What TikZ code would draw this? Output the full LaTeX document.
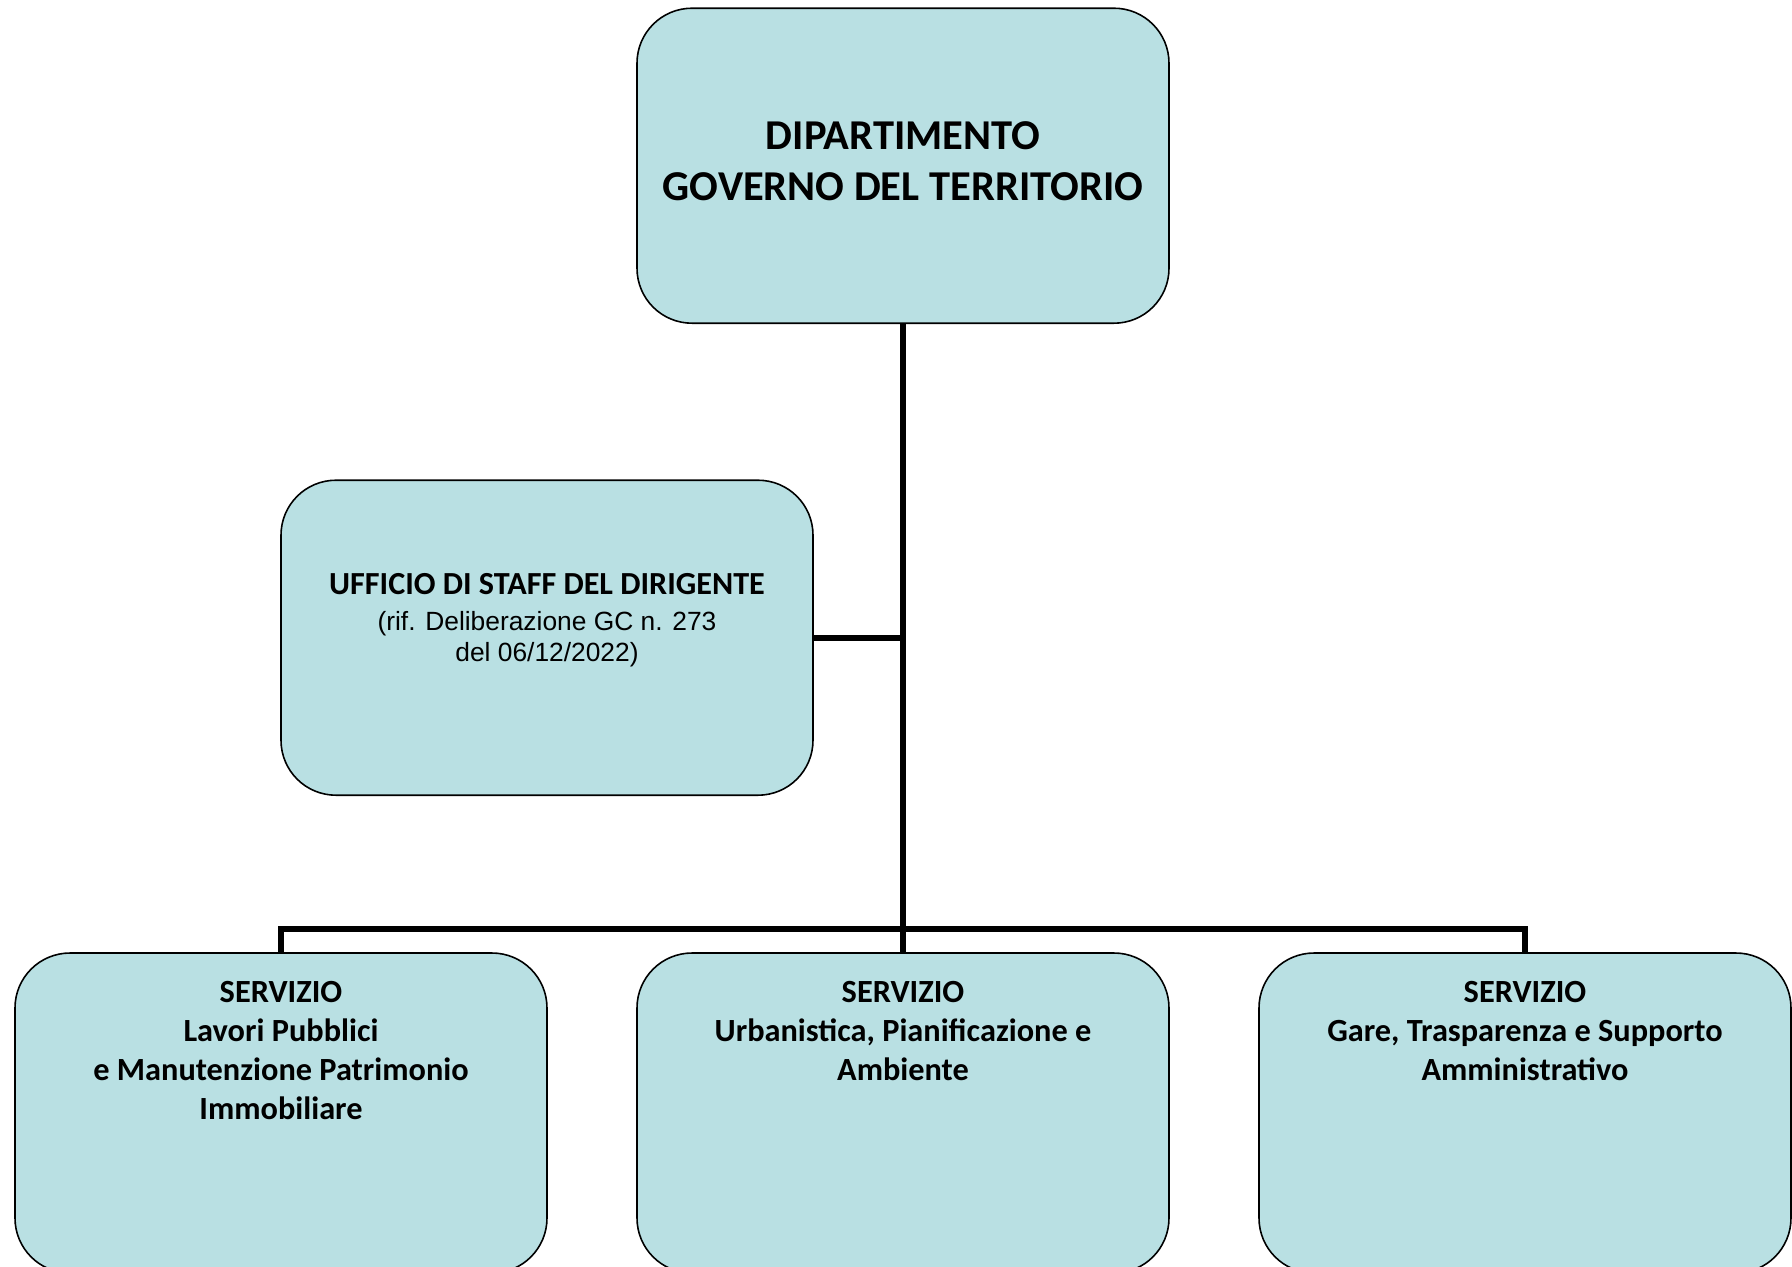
\documentclass[tikz,border=0pt]{standalone}
\usepackage{fontspec}
\setmainfont{Carlito}
\newfontfamily\arialfont{Liberation Sans}
\usepackage{tikz}
\usetikzlibrary{positioning}
\usepackage{xcolor}
\definecolor{boxfill}{RGB}{185,224,227}

\begin{document}
\begin{tikzpicture}[
  ufficio/.style={draw=black, line width=0.45pt, fill=boxfill, rounded corners=0.55cm,
    minimum width=5.32cm, minimum height=3.15cm, inner sep=0pt},
  servizio/.style={ufficio, minimum height=3.2cm},
  conn/.style={black, line width=1.7pt},
  titolo/.style={align=center, font=\fontsize{12.1}{14.6}\selectfont\bfseries},
  testo/.style={align=center, font=\fontsize{9.2}{11.1}\selectfont\bfseries}
]
\useasboundingbox (0,0) rectangle (17.92,-12.66);

\node[ufficio] (dip) at (9.03,-1.657) {};
\node[titolo] (diptxt) at (9.03,-1.61) {DIPARTIMENTO\\GOVERNO DEL TERRITORIO};

\node[ufficio] (staff) at (5.47,-6.377) {};
\node[align=center, font=\arialfont\fontsize{7.5}{8.8}\selectfont] (stafftxt) at (5.47,-6.20)
{{\rmfamily\fontsize{9.15}{10}\selectfont\bfseries UFFICIO DI STAFF DEL DIRIGENTE}\\[1.3pt]
(rif. Deliberazione GC n. 273\\
del 06/12/2022)};

\node[servizio] (srv1) at (2.81,-11.13) {};
\node[servizio] (srv2) at (9.03,-11.13) {};
\node[servizio] (srv3) at (15.25,-11.13) {};

\node[testo, below=0.17cm of srv1.north] (srv1txt) {SERVIZIO\\Lavori Pubblici\\e Manutenzione Patrimonio\\Immobiliare};
\node[testo, below=0.17cm of srv2.north] (srv2txt) {SERVIZIO\\Urbanistica, Pianificazione e\\Ambiente};
\node[testo, below=0.17cm of srv3.north] (srv3txt) {SERVIZIO\\Gare, Trasparenza e Supporto\\Amministrativo};

\coordinate (bar) at (9.03,-9.29);
\draw[conn] (dip.south) -- (srv2.north);
\draw[conn] (srv1.north) |- (bar) -| (srv3.north);
\draw[conn] (staff.east) -- (staff.east -| dip.south);

\end{tikzpicture}
\end{document}
